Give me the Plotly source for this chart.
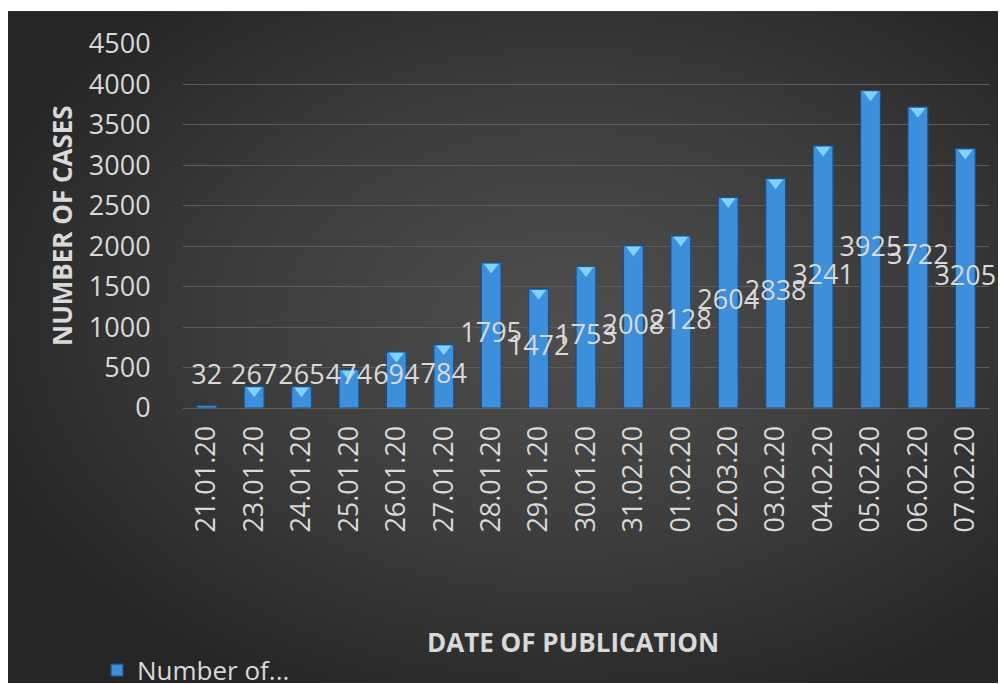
import base64
import plotly.graph_objects as go

# ---- data ----
dates = ["21.01.20", "23.01.20", "24.01.20", "25.01.20", "26.01.20", "27.01.20",
         "28.01.20", "29.01.20", "30.01.20", "31.02.20", "01.02.20", "02.03.20",
         "03.02.20", "04.02.20", "05.02.20", "06.02.20", "07.02.20"]
cases = [32, 267, 265, 474, 694, 784, 1795, 1472, 1753, 2008, 2128, 2604,
         2838, 3241, 3925, 3722, 3205]
y_ticks = list(range(0, 5000, 500))
series_name = "Number of..."
x_title = "DATE OF PUBLICATION"
y_title = "NUMBER OF CASES"

FONT = "Open Sans, Noto Sans, sans-serif"
TXT = "#d9d9d9"

# page has an 8px body margin: figure px = screen px - 8
OFF = 8
W, H = 998, 676
PL, PR, PT, PB = 183 - OFF, 989 - OFF, 44 - OFF, 408.5 - OFF   # plot area in figure px
ML, MR, MT, MB = PL, W - PR, PT, H - PB
PW = PR - PL
PH = PB - PT

def px_x(p):  # screen px -> paper x
    return (p - OFF - PL) / PW

def px_y(p):  # screen px -> paper y
    return (PB - (p - OFF)) / PH

# radial gradient background as inline svg
svg = ("<svg xmlns='http://www.w3.org/2000/svg' width='998' height='673' preserveAspectRatio='none'>"
       "<defs><radialGradient id='g' cx='0.56' cy='0.46' r='0.62'>"
       "<stop offset='0' stop-color='#4e4e4e'/><stop offset='0.55' stop-color='#3c3c3c'/>"
       "<stop offset='1' stop-color='#262626'/></radialGradient></defs>"
       "<rect width='100%' height='100%' fill='url(#g)'/></svg>")
bg_src = "data:image/svg+xml;base64," + base64.b64encode(svg.encode()).decode()

fig = go.Figure()

fig.add_trace(go.Bar(
    x=dates, y=cases, name=series_name,
    marker=dict(color="#3d8edb", line=dict(color="#1d4f86", width=1.2)),
    width=0.42, showlegend=True, hoverinfo="x+y",
))

# light bevel triangles at bar tops
tri_size = 13
tri_off = (tri_size / 4 + 1) * 4500 / PH
tri_x = [d for d, v in zip(dates, cases) if v > 100]
tri_y = [v - tri_off for v in cases if v > 100]
fig.add_trace(go.Scatter(
    x=tri_x, y=tri_y, mode="markers",
    marker=dict(symbol="triangle-down", size=tri_size, color="#80d2fa",
                line=dict(width=0)),
    showlegend=False, hoverinfo="skip",
))

# data labels
label_floor = 380
fig.add_trace(go.Scatter(
    x=dates, y=[max(v / 2, label_floor) for v in cases],
    mode="text", text=[str(v) for v in cases], textposition="middle center",
    textfont=dict(family=FONT, size=27, color=TXT),
    showlegend=False, hoverinfo="skip", cliponaxis=False,
))

fig.update_layout(
    width=W, height=H,
    margin=dict(l=ML, r=MR, t=MT, b=MB, autoexpand=False),
    paper_bgcolor="white",
    plot_bgcolor="rgba(0,0,0,0)",
    font=dict(family=FONT, size=27, color=TXT),
    images=[dict(source=bg_src, xref="paper", yref="paper",
                 x=px_x(8), y=px_y(11), xanchor="left", yanchor="top",
                 sizex=(W - 0) / PW, sizey=(H - 3) / PH,
                 sizing="stretch", layer="below")],
    xaxis=dict(
        type="category", range=[-0.5, len(dates) - 0.5],
        tickangle=-90, showgrid=False, zeroline=False,
        ticks="outside", ticklen=6, tickcolor="rgba(0,0,0,0)",
        tickfont=dict(family=FONT, size=27, color=TXT),
        showline=False, fixedrange=True,
    ),
    yaxis=dict(
        range=[0, 4500], tickvals=y_ticks, ticktext=[str(t) for t in y_ticks],
        showgrid=True, gridcolor="#5c5c5c", gridwidth=1,
        zeroline=True, zerolinecolor="#5c5c5c", zerolinewidth=1,
        ticks="outside", ticklen=26, tickcolor="rgba(0,0,0,0)",
        tickfont=dict(family=FONT, size=27, color=TXT),
        showline=False, fixedrange=True,
    ),
    legend=dict(
        x=px_x(97), y=px_y(671), xanchor="left", yanchor="middle",
        font=dict(family=FONT, size=26, color=TXT),
        bgcolor="rgba(0,0,0,0)",
    ),
    annotations=[
        dict(text="<b>" + y_title + "</b>", xref="paper", yref="paper",
             x=px_x(62), y=0.5, textangle=-90, showarrow=False,
             font=dict(family=FONT, size=26, color=TXT),
             xanchor="center", yanchor="middle"),
        dict(text="<b>" + x_title + "</b>", xref="paper", yref="paper",
             x=px_x(573), y=px_y(643), showarrow=False,
             font=dict(family=FONT, size=26, color=TXT),
             xanchor="center", yanchor="middle"),
    ],
)

fig.write_html("out.html")
